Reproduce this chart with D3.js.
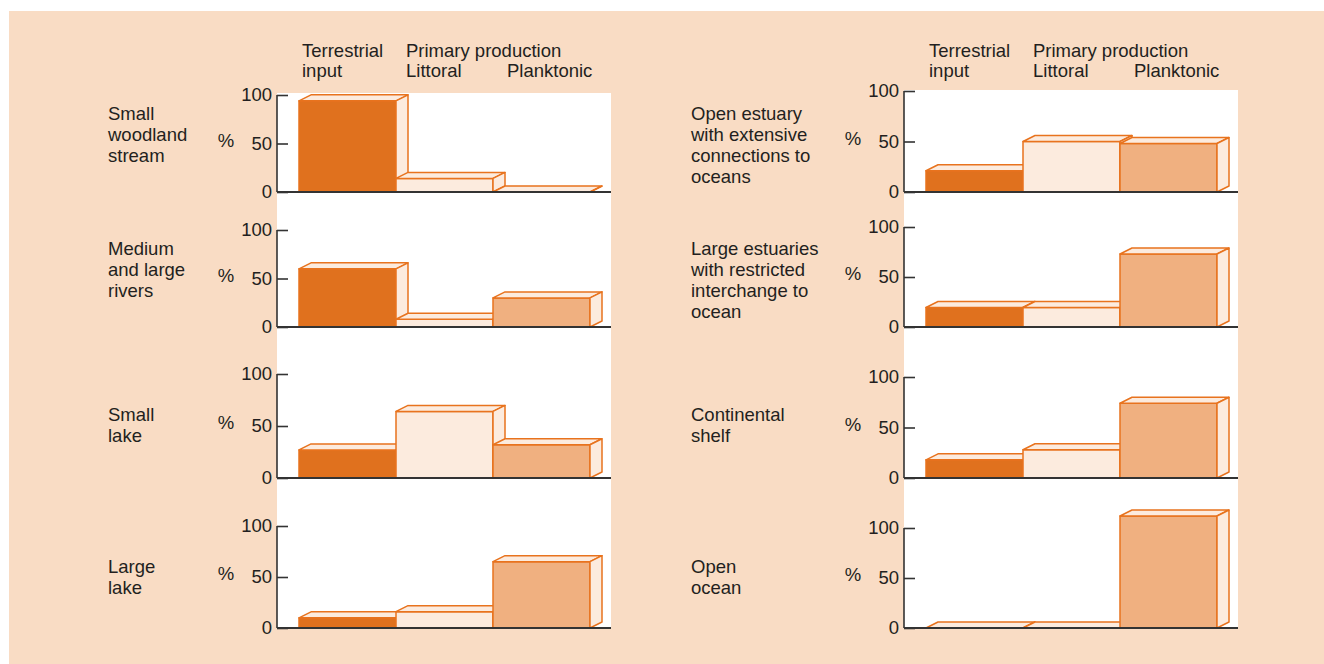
<!DOCTYPE html>
<html>
<head>
<meta charset="utf-8">
<script src="https://cdn.jsdelivr.net/npm/d3@7"></script>
<style>
  body { margin: 0; background: #ffffff; }
  text { font-family: "Liberation Sans", Arial, Helvetica, sans-serif; fill: #231f20; }
</style>
</head>
<body>
<div id="chart"></div>
<script>
// categories (bar order inside each panel)
const categories = ["Terrestrial", "Littoral", "Planktonic"];
const yTicks = [0, 50, 100];

// left column: freshwater systems
const leftSystems = [
    ["Small", "woodland", "stream"],
    ["Medium", "and large", "rivers"],
    ["Small", "lake"],
    ["Large", "lake"]
];
const leftValues = [
    [94, 14, 0],
    [60, 8, 30],
    [27, 64, 32],
    [10, 16, 65]
];

// right column: marine systems
const rightSystems = [
    ["Open estuary", "with extensive", "connections to", "oceans"],
    ["Large estuaries", "with restricted", "interchange to", "ocean"],
    ["Continental", "shelf"],
    ["Open", "ocean"]
];
const rightValues = [
    [21, 50, 48],
    [19.5, 19.5, 73],
    [18, 28, 74],
    [0, 0, 112]
];

const colors = {Terrestrial: "#e0711e", Littoral: "#fcebde", Planktonic: "#f0b080"};
const edge = "#e8731e";
const faceFill = "#fcebde";
const depth = {dx: 12, dy: 6};
const fontSize = "18.5px";

let svg = d3.select("#chart").append("svg")
    .attr("width", 1324).attr("height", 664);

// peach background
svg.append("rect").attr("x", 9).attr("y", 11)
    .attr("width", 1315).attr("height", 653).attr("fill", "#f9dcc4");

// TODO: hard coded layout of the two columns and four rows
let columns = [
    {axisX: 277, barX: 299, labelX: 108, pctX: 226, whiteRight: 611, whiteTop: 93,
     systems: leftSystems, values: leftValues,
     rows: [[192, 95], [327, 230], [478, 374], [628, 526]]},
    {axisX: 904, barX: 926, labelX: 691, pctX: 853, whiteRight: 1238, whiteTop: 90,
     systems: rightSystems, values: rightValues,
     rows: [[192, 91], [327, 227], [478, 377], [628, 528]]}
];

columns.forEach(function(col) { drawColumn(col); });

/** Draws the white plot strip, header and the four panels of one column
 *  @param col: the column layout and its data
 */
function drawColumn(col) {
    let xScale = d3.scaleBand().domain(categories)
        .range([col.barX, col.barX + 291]).padding(0);

    svg.append("rect")
        .attr("x", col.axisX).attr("y", col.whiteTop)
        .attr("width", col.whiteRight - col.axisX)
        .attr("height", col.rows[3][0] - col.whiteTop)
        .attr("fill", "#ffffff");

    // header
    let head = svg.append("g").style("font-size", fontSize);
    head.append("text").attr("x", xScale("Terrestrial") + 3).attr("y", 57).text("Terrestrial");
    head.append("text").attr("x", xScale("Terrestrial") + 3).attr("y", 77).text("input");
    head.append("text").attr("x", xScale("Littoral") + 10).attr("y", 57).text("Primary production");
    head.append("text").attr("x", xScale("Littoral") + 10).attr("y", 77).text("Littoral");
    head.append("text").attr("x", xScale("Planktonic") + 14).attr("y", 77).text("Planktonic");

    col.rows.forEach(function(r, i) {
        drawPanel(col, xScale, r, col.values[i], col.systems[i], i);
    });
}

/** Draws a single pseudo 3D bar panel
 *  @param col: column layout
 *  @param xScale: band scale of the categories
 *  @param r: [pixel of 0, pixel of 100]
 *  @param vals: values of the three bars
 *  @param names: lines of the row label
 *  @param i: row index
 */
function drawPanel(col, xScale, r, vals, names, i) {
    let yScale = d3.scaleLinear().domain([0, 100]).range(r);
    let g = svg.append("g");
    let bw = xScale.bandwidth();

    let dataArr = categories.map(function(c, k) { return {cat: c, value: vals[k]}; });

    // bars left to right so the next front face hides the previous side face
    dataArr.forEach(function(d) {
        let x0 = xScale(d.cat), x1 = x0 + bw;
        let yTop = yScale(d.value), y0 = yScale(0);
        let bar = g.append("g")
            .attr("stroke", edge).attr("stroke-width", 1.5).attr("stroke-linejoin", "round");
        bar.append("rect")
            .attr("x", x0).attr("y", yTop)
            .attr("width", bw).attr("height", y0 - yTop)
            .attr("fill", colors[d.cat]);
        // top face
        bar.append("path")
            .attr("d", `M${x0},${yTop}L${x1},${yTop}L${x1 + depth.dx},${yTop - depth.dy}L${x0 + depth.dx},${yTop - depth.dy}Z`)
            .attr("fill", faceFill);
        // side face
        bar.append("path")
            .attr("d", `M${x1},${yTop}L${x1 + depth.dx},${yTop - depth.dy}L${x1 + depth.dx},${y0 - depth.dy}L${x1},${y0}Z`)
            .attr("fill", faceFill);
    });

    // y axis with inward ticks
    let yAxis = d3.axisLeft(yScale).tickValues(yTicks).tickSize(-11).tickPadding(5);
    let ax = g.append("g")
        .attr("transform", `translate(${col.axisX}, 0)`)
        .call(yAxis);
    ax.select(".domain").remove();
    ax.append("line").attr("x1", 0).attr("x2", 0)
        .attr("y1", yScale(100)).attr("y2", yScale(0))
        .attr("stroke", "#333").attr("stroke-width", 1.6);
    ax.selectAll(".tick line").attr("stroke", "#333").attr("stroke-width", 1.6);
    ax.selectAll(".tick text")
        .attr("fill", "#231f20")
        .style("font-size", fontSize)
        .style("font-family", "Liberation Sans, Arial, sans-serif");

    // baseline
    g.append("line")
        .attr("x1", col.axisX).attr("x2", col.whiteRight)
        .attr("y1", yScale(0)).attr("y2", yScale(0))
        .attr("stroke", "#333").attr("stroke-width", 1.8);

    // % label
    g.append("text")
        .attr("x", col.pctX).attr("y", yScale(50) + 3)
        .attr("text-anchor", "middle")
        .style("font-size", fontSize)
        .text("%");

    // row label
    let rowBaselines = [120, 255, 421, 573];
    let lbl = g.append("text")
        .attr("x", col.labelX).attr("y", rowBaselines[i])
        .style("font-size", fontSize);
    names.forEach(function(n, k) {
        lbl.append("tspan").attr("x", col.labelX).attr("dy", k === 0 ? 0 : 21).text(n);
    });
}
</script>
</body>
</html>
